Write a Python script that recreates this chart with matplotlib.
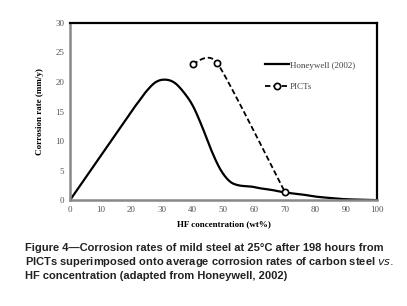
import numpy as np
import matplotlib
matplotlib.use("Agg")
import matplotlib.pyplot as plt

# Honeywell (2002) curve
hw_x = [0, 10, 20, 22, 25, 28, 31, 34, 37, 40, 43, 46, 49, 52, 55, 59, 62, 66, 70, 75, 80, 85, 90, 100]
hw_y = [0, 7.5, 15.0, 16.4, 18.5, 20.0, 20.4, 19.9, 18.3, 16.0, 12.5, 8.5, 5.2, 3.2, 2.5, 2.3, 2.0, 1.7, 1.3, 1.0, 0.6, 0.35, 0.15, 0.0]

# PICTs measurements
pict_x = [40, 48, 70]
pict_y = [23.0, 23.2, 1.4]

x_ticks = list(range(0, 101, 10))
y_ticks = list(range(0, 31, 5))

caption = ("Figure 4\u2014Corrosion rates of mild steel at 25\u00b0C after 198 hours from\n"
           "PICTs superimposed onto average corrosion rates of carbon steel $\\mathbf{\\mathit{vs.}}$\n"
           "HF concentration (adapted from Honeywell, 2002)")


def smooth(xs, ys, s=0.5, n=30):
    # cardinal spline through the points, like a spreadsheet "smoothed line"
    xs = np.asarray(xs, float)
    ys = np.asarray(ys, float)
    pts = np.column_stack([xs, ys])
    tan = np.zeros_like(pts)
    tan[1:-1] = s * (pts[2:] - pts[:-2])
    tan[0] = s * (pts[1] - pts[0])
    tan[-1] = s * (pts[-1] - pts[-2])
    out = []
    t = np.linspace(0, 1, n, endpoint=False)[:, None]
    h00 = 2 * t ** 3 - 3 * t ** 2 + 1
    h10 = t ** 3 - 2 * t ** 2 + t
    h01 = -2 * t ** 3 + 3 * t ** 2
    h11 = t ** 3 - t ** 2
    for i in range(len(pts) - 1):
        out.append(h00 * pts[i] + h10 * tan[i] + h01 * pts[i + 1] + h11 * tan[i + 1])
    out.append(pts[-1:])
    out = np.vstack(out)
    return out[:, 0], out[:, 1]


fig = plt.figure(figsize=(4.07, 3.06), dpi=100)
ax = fig.add_axes([0.172, 0.346, 0.754, 0.579])

sx, sy = smooth(hw_x, hw_y)
ax.plot(sx, sy, color="black", lw=1.6, label="Honeywell (2002)")

px, py = smooth(pict_x, pict_y, s=0.3)
ax.plot(px, py, color="black", lw=1.3, ls=(0, (3, 1.6)))
ax.plot(pict_x, pict_y, ls="none", marker="o", ms=4.5, mfc="white", mec="black", mew=1.2)
ax.plot([], [], color="black", lw=1.3, ls=(0, (3, 1.6)), marker="o", ms=4.5,
        mfc="white", mec="black", mew=1.2, label="PICTs")

ax.set_xlim(0, 100)
ax.set_ylim(0, 30)
ax.set_xticks(x_ticks)
ax.set_yticks(y_ticks)
ax.tick_params(length=0, labelsize=6.5, labelcolor="#555555", pad=4)
for lab in ax.get_xticklabels() + ax.get_yticklabels():
    lab.set_family("Liberation Serif")

for s in ["top", "right"]:
    ax.spines[s].set_color("black")
    ax.spines[s].set_linewidth(1.6)
for s in ["left", "bottom"]:
    ax.spines[s].set_color("#888888")
    ax.spines[s].set_linewidth(1.8)

ax.set_xlabel("HF concentration (wt%)", family="Liberation Serif", fontsize=6.5,
              fontweight="bold", labelpad=5)
ax.set_ylabel("Corrosion rate (mm/y)", family="Liberation Serif", fontsize=6.5,
              fontweight="bold", labelpad=8)

leg = ax.legend(loc="upper left", bbox_to_anchor=(0.61, 0.83), frameon=False,
                prop={"family": "Liberation Serif", "size": 6.5}, handlelength=2.6,
                labelspacing=1.5, handletextpad=0.1, labelcolor="#444444")

fig.text(0.061, 0.205, caption, ha="left", va="top", fontsize=8.0, fontweight="bold",
         family="Liberation Sans", color="#222222", linespacing=1.22)

fig.savefig("out.png", dpi=100)
